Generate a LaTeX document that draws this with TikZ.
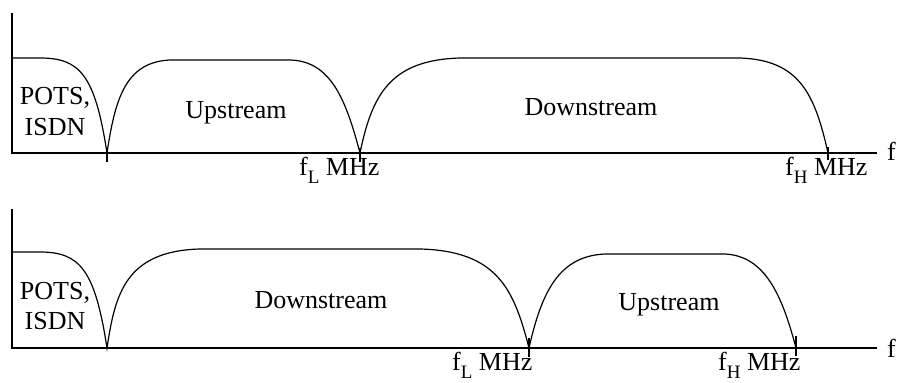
\documentclass[tikz,border=0pt]{standalone}
\usepackage{fontspec}
\setmainfont{Liberation Serif}
\newcommand\mysub[1]{\raisebox{-0.34em}{\fontsize{19}{19}\selectfont #1}}
\begin{document}
\begin{tikzpicture}[x=1pt,y=-1pt,
  axis/.style={line width=2pt},
  tickmark/.style={line width=1.6pt},
  curve/.style={line width=1.2pt},
  lbl/.style={inner sep=0pt, font=\fontsize{26}{31}\selectfont}]
\useasboundingbox (0,0) rectangle (898,383);
% ---------- top panel ----------
\coordinate (t-o) at (12,153);
\coordinate (t-y) at (12,13);
\coordinate (t-x) at (877,153);
\draw[axis] (t-y) -- (t-o) -- (t-x);
\coordinate (t-d1) at (107,153);
\coordinate (t-d2) at (360,153);
\coordinate (t-d3) at (828,153);
\draw[curve] (12,58) -- (40,58) .. controls (80,58) and (95,75) .. (t-d1)
  .. controls (115,100) and (125,62) .. (170,60) -- (290,60)
  .. controls (331,61) and (346,100) .. (t-d2)
  .. controls (372,95) and (390,60) .. (460,58) -- (740,58)
  .. controls (800,60) and (815,95) .. (t-d3);
\draw[tickmark] (107,150) -- (107,162);
\draw[tickmark] (360,148) -- (360,162);
\draw[tickmark] (828,147) -- (828,160);
\node[lbl, anchor=base] (t-pots) at (55,104) {POTS,};
\node[lbl, anchor=base] (t-isdn) at (55,135) {ISDN};
\node[lbl, anchor=base] (t-up) at (236,118) {Upstream};
\node[lbl, anchor=base] (t-down) at (591,115) {Downstream};
\node[lbl, anchor=base west] (t-fl) at (299,175) {f\mysub{L} MHz};
\node[lbl, anchor=base west] (t-fh) at (785,175) {f\mysub{H} MHz};
\node[lbl, anchor=base west] (t-f) at (887,160) {f};
% ---------- bottom panel ----------
\coordinate (b-o) at (12,348);
\coordinate (b-y) at (12,209);
\coordinate (b-x) at (877,348);
\draw[axis] (b-y) -- (b-o) -- (b-x);
\coordinate (b-d1) at (107,348);
\coordinate (b-d2) at (529,348);
\coordinate (b-d3) at (796,348);
\draw[curve] (12,252) -- (40,252) .. controls (80,252) and (95,270) .. (b-d1)
  .. controls (115,295) and (125,251) .. (200,249) -- (420,249)
  .. controls (498,251) and (514,290) .. (b-d2)
  .. controls (542,290) and (560,256) .. (605,254) -- (725,254)
  .. controls (765,256) and (782,295) .. (b-d3);
\draw[tickmark] (529,338) -- (529,357);
\draw[tickmark] (796,336) -- (796,356);
\node[lbl, anchor=base] (b-pots) at (55,299) {POTS,};
\node[lbl, anchor=base] (b-isdn) at (55,329) {ISDN};
\node[lbl, anchor=base] (b-down) at (321,308) {Downstream};
\node[lbl, anchor=base] (b-up) at (669,310) {Upstream};
\node[lbl, anchor=base west] (b-fl) at (452,370) {f\mysub{L} MHz};
\node[lbl, anchor=base west] (b-fh) at (718,370) {f\mysub{H} MHz};
\node[lbl, anchor=base west] (b-f) at (887,357) {f};
\end{tikzpicture}
\end{document}
